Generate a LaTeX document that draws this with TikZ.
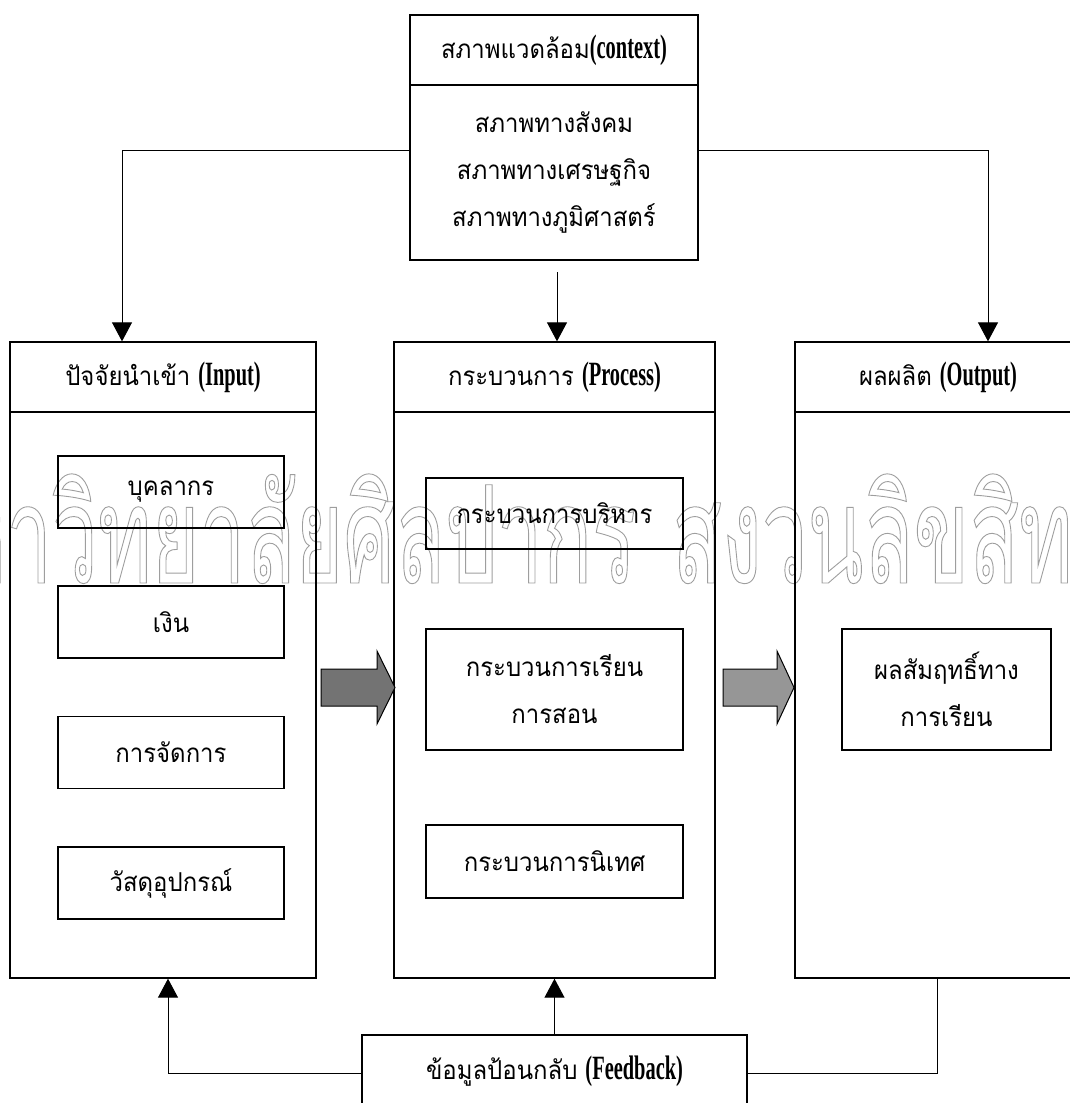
\documentclass[tikz,border=0pt]{standalone}
\usepackage{fontspec}
\setmainfont{Loma}[Script=Thai,FakeStretch=0.92]
\newfontfamily\lat{Liberation Serif}[FakeStretch=0.6]
\newfontfamily\wmfont{Loma}[Script=Thai,FakeStretch=0.6]
\usetikzlibrary{arrows.meta}
\newcommand\wmon{\special{pdf:literal direct q 1 Tr 0.9 w 0.62 G}}
\newcommand\wmoff{\special{pdf:literal direct Q}}
\newcommand\latb[1]{{\lat\bfseries\fontsize{34}{40}\selectfont #1}}
\begin{document}
\begin{tikzpicture}[x=1pt,y=-1pt,
  box/.style={draw,line width=1.3pt,inner sep=0pt,align=center,font=\fontsize{26}{47}\selectfont},
  conn/.style={line width=1pt},
  tip/.style={-{Triangle[width=20pt,length=19pt]}},
  wm/.style={inner sep=0pt,font=\wmfont\fontsize{136}{136}\selectfont},
  blockarrow/.style={draw,line width=1pt,line join=miter}]
\useasboundingbox (0,0) rectangle (1070,1103);
% watermark
\node[wm,anchor=base east] (wm1) at (636,583) {\wmon มหาวิทยาลัยศิลปากร\wmoff};
\node[wm,anchor=base west] (wm2) at (672,583) {\wmon สงวนลิขสิทธิ์\wmoff};
% context
\node[box,minimum width=288pt,minimum height=70pt] (ctxh) at (554,50) {สภาพแวดล้อม\latb{(context)}};
\node[box,minimum width=288pt,minimum height=175pt] (ctxb) at (554,172.5) {สภาพทางสังคม\\สภาพทางเศรษฐกิจ\\สภาพทางภูมิศาสตร์};
% columns
\node[box,minimum width=306pt,minimum height=70pt] (inh) at (163,377) {ปัจจัยนำเข้า \latb{(Input)}};
\node[box,minimum width=306pt,minimum height=566pt] (inb) at (163,695) {};
\node[box,minimum width=321pt,minimum height=70pt] (proh) at (554.5,377) {กระบวนการ \latb{(Process)}};
\node[box,minimum width=321pt,minimum height=566pt] (prob) at (554.5,695) {};
\node[box,minimum width=286pt,minimum height=70pt] (outh) at (938,377) {ผลผลิต \latb{(Output)}};
\node[box,minimum width=286pt,minimum height=566pt] (outb) at (938,695) {};
% input items
\node[box,minimum width=226pt,minimum height=72pt] (i1) at (171,492) {บุคลากร};
\node[box,minimum width=226pt,minimum height=72pt] (i2) at (171,622) {เงิน};
\node[box,minimum width=226pt,minimum height=72pt] (i3) at (171,752.5) {การจัดการ};
\node[box,minimum width=226pt,minimum height=72pt] (i4) at (171,883) {วัสดุอุปกรณ์};
% process items
\node[box,minimum width=257pt,minimum height=71pt] (p1) at (554.5,513.5) {กระบวนการบริหาร};
\node[box,minimum width=257pt,minimum height=121pt] (p2) at (554.5,689.5) {กระบวนการเรียน\\การสอน};
\node[box,minimum width=257pt,minimum height=73pt] (p3) at (554.5,861.5) {กระบวนการนิเทศ};
% output item
\node[box,minimum width=209pt,minimum height=121pt] (o1) at (946.5,689.5) {ผลสัมฤทธิ์ทาง\\การเรียน};
% feedback
\node[box,minimum width=385pt,minimum height=72pt] (fb) at (554.5,1071) {ข้อมูลป้อนกลับ \latb{(Feedback)}};
% context connectors
\coordinate (lc) at (122,150);
\coordinate (rc) at (988,150);
\coordinate (cs) at (557,272);
\draw[conn,tip] (ctxb.west |- lc) -- (lc) -- (lc |- inh.north);
\draw[conn,tip] (ctxb.east |- rc) -- (rc) -- (rc |- outh.north);
\draw[conn,tip] (cs) -- (cs |- proh.north);
% feedback connectors
\coordinate (fl) at (168,1073);
\coordinate (fr) at (937,1073);
\draw[conn,tip] (fb.west |- fl) -- (fl) -- (fl |- inb.south);
\draw[conn,tip] (fb.north) -- (fb.north |- prob.south);
\draw[conn] (fb.east |- fr) -- (fr) -- (fr |- outb.south);
% block arrows
\draw[blockarrow,fill={rgb,255:red,115;green,115;blue,115}] (321,669) -- (377,669) -- (377,651) -- (395,687.5) -- (377,724) -- (377,706) -- (321,706) -- cycle;
\draw[blockarrow,fill={rgb,255:red,150;green,150;blue,150}] (723,669) -- (777,669) -- (777,651) -- (794,687.5) -- (777,724) -- (777,706) -- (723,706) -- cycle;
\end{tikzpicture}
\end{document}
